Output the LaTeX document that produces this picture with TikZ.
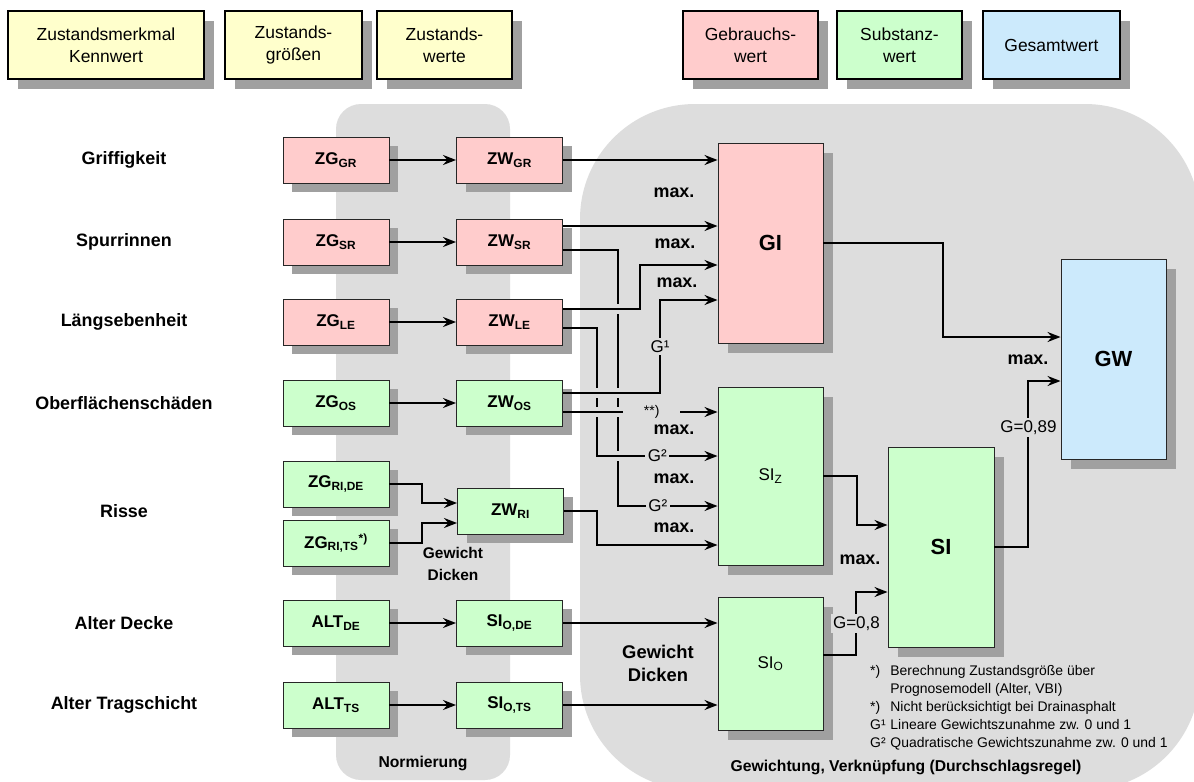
\documentclass[tikz,border=0pt]{standalone}
\usepackage{fontspec}
\setmainfont{Liberation Sans}
\usetikzlibrary{arrows.meta, positioning, calc, shadows}
\definecolor{hdryellow}{RGB}{255,255,204}
\definecolor{gebrpink}{RGB}{255,204,204}
\definecolor{substgreen}{RGB}{204,255,204}
\definecolor{gesblue}{RGB}{204,234,252}
\definecolor{bandgray}{RGB}{221,221,221}
\definecolor{shadowgray}{RGB}{160,160,160}
\tikzset{
    hdrbox/.style={rectangle, draw=black, line width=2.4pt, fill=hdryellow, align=center,
        inner sep=0pt, minimum height=2.04cm, font=\fontsize{14.9}{18.7}\selectfont,
        drop shadow={shadow xshift=0.29cm, shadow yshift=-0.29cm, fill=shadowgray, opacity=1}},
    zbox/.style={rectangle, draw=black!85, line width=0.8pt, inner sep=0pt,
        minimum width=3.18cm, minimum height=1.38cm, font=\fontsize{14.5}{17}\selectfont\bfseries,
        drop shadow={shadow xshift=0.27cm, shadow yshift=-0.27cm, fill=shadowgray, opacity=1}},
    zpink/.style={zbox, fill=gebrpink},
    zgreen/.style={zbox, fill=substgreen},
    bigbox/.style={rectangle, draw=black!85, line width=0.8pt, inner sep=0pt,
        minimum width=3.15cm, font=\fontsize{18.7}{22}\selectfont\bfseries,
        drop shadow={shadow xshift=0.3cm, shadow yshift=-0.3cm, fill=shadowgray, opacity=1}},
    merkmal/.style={font=\fontsize{15.3}{18}\selectfont\bfseries},
    maxlbl/.style={font=\fontsize{15.3}{18}\selectfont\bfseries},
    glbl/.style={fill=bandgray, inner sep=2pt, font=\fontsize{14.5}{17}\selectfont},
    dicken/.style={align=center, font=\fontsize{13.2}{18.7}\selectfont\bfseries},
    bandlbl/.style={font=\fontsize{13.4}{16}\selectfont\bfseries},
    notetext/.style={inner sep=0pt, font=\fontsize{11.9}{15.3}\selectfont},
    conn/.style={-{Stealth[length=3.9mm, width=3mm, inset=1.3mm]}, line width=1.7pt},
}

\begin{document}
\begin{tikzpicture}[x=0.03cm, y=-0.03cm]
    \useasboundingbox (0,0) rectangle (1194,782);
    \clip (0,0) rectangle (1194,782);
    \fill[white] (0,0) rectangle (1194,782);

    % Hintergrundflaechen
    \fill[bandgray, rounded corners=0.75cm] (336,104) rectangle (510,780);
    \fill[bandgray, rounded corners=3.45cm] (580,104) rectangle (1200,790);

    % Kopfzeile
    \node[hdrbox, minimum width=5.88cm] (hmerk) at (106,45) {Zustandsmerkmal\\Kennwert};
    \node[hdrbox, minimum width=4.11cm] (hgroe) at (293.5,45) {Zustands-\\größen};
    \node[hdrbox, minimum width=4.05cm] (hwert) at (444.5,45) {Zustands-\\werte};
    \node[hdrbox, minimum width=4.05cm, fill=gebrpink] (hgebr) at (750.5,45) {Gebrauchs-\\wert};
    \node[hdrbox, minimum width=3.75cm, fill=substgreen] (hsubst) at (899.5,45) {Substanz-\\wert};
    \node[hdrbox, minimum width=4.11cm, fill=gesblue] (hges) at (1051.5,45) {Gesamtwert};

    % Zustandsmerkmale
    \node[merkmal] (lgr) at (124,160) {Griffigkeit};
    \node[merkmal] (lsr) at (124,242) {Spurrinnen};
    \node[merkmal] (lle) at (124,322) {Längsebenheit};
    \node[merkmal] (los) at (124,403) {Oberflächenschäden};
    \node[merkmal] (lri) at (124,511) {Risse};
    \node[merkmal] (lde) at (124,623) {Alter Decke};
    \node[merkmal] (lts) at (124,705) {Alter Tragschicht};

    % Zustandsgroessen
    \node[zpink] (zggr) at (336,160) {ZG\textsubscript{GR}};
    \node[zpink] (zgsr) at (336,242) {ZG\textsubscript{SR}};
    \node[zpink] (zgle) at (336,322) {ZG\textsubscript{LE}};
    \node[zgreen] (zgos) at (336,403) {ZG\textsubscript{OS}};
    \node[zgreen] (zgride) at (336,484) {ZG\textsubscript{RI,DE}};
    \node[zgreen] (zgrits) at (336,543) {ZG\textsubscript{RI,TS}\textsuperscript{*)}};
    \node[zgreen] (altde) at (336,623) {ALT\textsubscript{DE}};
    \node[zgreen] (altts) at (336,705) {ALT\textsubscript{TS}};

    % Zustandswerte
    \node[zpink] (zwgr) at (509.5,160) {ZW\textsubscript{GR}};
    \node[zpink] (zwsr) at (509.5,242) {ZW\textsubscript{SR}};
    \node[zpink] (zwle) at (509.5,322) {ZW\textsubscript{LE}};
    \node[zgreen] (zwos) at (509.5,403) {ZW\textsubscript{OS}};
    \node[zgreen] (zwri) at (510.5,511) {ZW\textsubscript{RI}};
    \node[zgreen] (siode) at (509.5,623) {SI\textsubscript{O,DE}};
    \node[zgreen] (siots) at (509.5,705) {SI\textsubscript{O,TS}};
    \node[dicken] (gdri) at (453,564) {Gewicht\\Dicken};

    % Teilwerte und Gesamtwert
    \node[bigbox, fill=gebrpink, minimum height=6cm] (gi) at (770.5,243) {GI};
    \node[bigbox, fill=substgreen, minimum height=5.34cm, font=\fontsize{14.5}{17}\selectfont] (siz) at (770.5,476) {SI\textsubscript{Z}};
    \node[bigbox, fill=substgreen, minimum height=3.99cm, font=\fontsize{14.5}{17}\selectfont] (sio) at (770.5,663.5) {SI\textsubscript{O}};
    \node[bigbox, fill=substgreen, minimum height=6cm, minimum width=3.18cm] (si) at (941,547) {SI};
    \node[bigbox, fill=gesblue, minimum height=6cm] (gw) at (1113.5,359) {GW};

    \node[maxlbl] (mgi1) at (674,193) {max.};
    \node[maxlbl] (mgi2) at (675,244) {max.};
    \node[maxlbl] (mgi3) at (677,283) {max.};
    \node[maxlbl] (msiz1) at (674,430) {max.};
    \node[maxlbl] (msiz2) at (674,479) {max.};
    \node[maxlbl] (msiz3) at (674,528) {max.};
    \node[maxlbl] (msi) at (860,560) {max.};
    \node[maxlbl] (mgw) at (1028,360) {max.};
    \node[dicken, font=\fontsize{15.7}{19.5}\selectfont\bfseries] (gdsio) at (658,663.5) {Gewicht\\Dicken};

    \node[bandlbl] (lnorm) at (423,763) {Normierung};
    \node[bandlbl] (lgew) at (906,767) {Gewichtung, Verknüpfung (Durchschlagsregel)};

    \node[notetext, anchor=north west] (fn) at (870,663) {%
        \begin{tabular}{@{}l@{\hspace{4pt}}l@{}}
        *)  & Berechnung Zustandsgröße über\\
            & Prognosemodell (Alter, VBI)\\
        **) & Nicht berücksichtigt bei Drainasphalt\\
        G¹  & Lineare Gewichtszunahme zw. 0 und 1\\
        G²  & Quadratische Gewichtszunahme zw. 0 und 1
        \end{tabular}};

    % Anschlusspunkte
    \coordinate (sr1) at ($(zwsr.east)+(0,-16)$);
    \coordinate (sr2) at ($(zwsr.east)+(0,8)$);
    \coordinate (le1) at ($(zwle.east)+(0,-13)$);
    \coordinate (le2) at ($(zwle.east)+(0,6)$);
    \coordinate (os1) at ($(zwos.east)+(0,-10)$);
    \coordinate (os2) at ($(zwos.east)+(0,9)$);

    % Normierung
    \draw[conn] (zggr) -- (zwgr);
    \draw[conn] (zgsr) -- (zwsr);
    \draw[conn] (zgle) -- (zwle);
    \draw[conn] (zgos) -- (zwos);
    \draw[conn] (zgride.east) -- ++(33,0) |- ($(zwri.west)+(0,-8)$);
    \draw[conn] (zgrits.east) -- ++(33,0) |- ($(zwri.west)+(0,12)$);
    \draw[conn] (altde) -- (siode);
    \draw[conn] (altts) -- (siots);

    % Gebrauchswert
    \draw[conn] (zwgr.east) -- (zwgr.east -| gi.west);
    \draw[conn] (sr1) -- (sr1 -| gi.west);
    \draw[conn] (le1) -- ++(77,0) |- ($(gi.west)+(0,22)$);
    \draw[conn] (os1) -- ++(97,0) |- node[glbl, pos=0.25] {G¹} ($(gi.west)+(0,57)$);

    % Substanzwert Zustand
    \draw[conn] (os2) -- node[glbl, pos=0.574, minimum width=1.71cm, font=\fontsize{11.9}{14}\selectfont] {**)} (os2 -| siz.west);
    \draw[conn] (le2) -- ++(34,0) |- node[glbl, pos=0.75] {G²} ($(siz.west)+(0,-20)$);
    \draw[conn] (sr2) -- ++(55,0) |- node[glbl, pos=0.7] {G²} ($(siz.west)+(0,30)$);
    \draw[conn] (zwri.east) -- ++(33.5,0) |- ($(siz.west)+(0,69)$);

    % Substanzwert Oberbau
    \draw[conn] (siode) -- (siode -| sio.west);
    \draw[conn] (siots) -- (siots -| sio.west);

    % Verknuepfung
    \draw[conn] (siz.east) -- ++(34,0) |- ($(si.west)+(0,-22)$);
    \draw[conn] ($(sio.east)+(0,-8.5)$) -- ++(33,0) |- node[glbl, pos=0.25] {G=0,8} ($(si.west)+(0,45)$);
    \draw[conn] (gi.east) -- ++(120,0) |- ($(gw.west)+(0,-22)$);
    \draw[conn] (si.east) -- ++(34,0) |- node[glbl, pos=0.36] {G=0,89} ($(gw.west)+(0,22)$);

    % Kreuzungen
    \foreach \cx/\cy in {617/309, 596/393, 617/393, 596/412, 617/412, 617/456} {
        \fill[bandgray] (\cx-2.5,\cy-5) rectangle (\cx+2.5,\cy+5);
        \draw[line width=1.7pt] (\cx-3,\cy) -- (\cx+3,\cy);
    }
\end{tikzpicture}
\end{document}
